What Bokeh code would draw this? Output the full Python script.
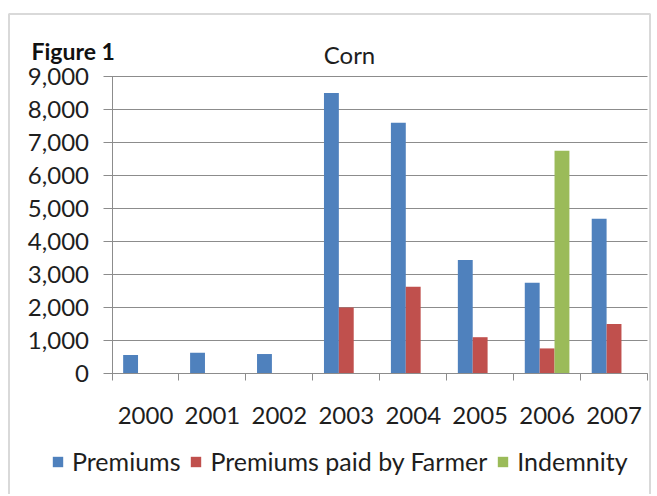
import numpy as np
from bokeh.plotting import figure
from bokeh.models import (ColumnDataSource, Range1d, FixedTicker, NumeralTickFormatter,
                          Legend, LegendItem, Label, BoxAnnotation)
from bokeh.transform import dodge
from bokeh.embed import file_html
from bokeh.resources import INLINE

years = ["2000", "2001", "2002", "2003", "2004", "2005", "2006", "2007"]
premiums = [560, 630, 590, 8500, 7600, 3440, 2750, 4690]
premiums_farmer = [0, 0, 0, 2000, 2630, 1100, 760, 1500]
indemnity = [0, 0, 0, 0, 0, 0, 6750, 0]
y_ticks = [0, 1000, 2000, 3000, 4000, 5000, 6000, 7000, 8000, 9000]
series_names = ["Premiums", "Premiums paid by Farmer", "Indemnity"]
title_text = "Corn"
figure_label = "Figure 1"

BLUE, RED, GREEN = "#4F81BD", "#C0504D", "#9BBB59"
FONT = "Lato"
TXT = "#1e1e1e"
GRID = "#8c8c8c"

# canvas layout (pixels)
W, H = 655, 494
L, R, T, B = 111.5, 647, 76, 373   # plot area: left, right, top(9000), bottom(0)
n = len(years)
ymax = y_ticks[-1]
ppx = (R - L) / n
ppy = (B - T) / ymax


def dx(px):
    return (px - L) / ppx


def dy(py):
    return (B - py) / ppy


centers = np.arange(n) + 0.5
src = ColumnDataSource(dict(x=centers, prem=premiums, farm=premiums_farmer, ind=indemnity))

p = figure(width=W, height=H, output_backend="svg", toolbar_location=None,
           x_range=Range1d(dx(0), dx(W)), y_range=Range1d(dy(H), dy(0)),
           min_border=0, min_border_left=0, min_border_right=0,
           min_border_top=0, min_border_bottom=0)
p.outline_line_color = None
p.background_fill_color = "white"
p.border_fill_color = "white"
p.xgrid.visible = False
p.ygrid.visible = False

# horizontal gridlines across the category span
p.segment(x0=0, x1=n, y0=y_ticks, y1=y_ticks, line_color=GRID, line_width=1)

bw = 1 / 4.5
r1 = p.vbar(x=dodge("x", -bw, range=p.x_range), top="prem", width=bw, source=src,
            fill_color=BLUE, line_color=None)
r2 = p.vbar(x=dodge("x", 0, range=p.x_range), top="farm", width=bw, source=src,
            fill_color=RED, line_color=None)
r3 = p.vbar(x=dodge("x", bw, range=p.x_range), top="ind", width=bw, source=src,
            fill_color=GREEN, line_color=None)

# x axis: labels at category centres, tick marks at boundaries
xa = p.xaxis[0]
xa.fixed_location = 0
xa.bounds = (0, n)
xa.ticker = FixedTicker(ticks=list(centers), minor_ticks=list(range(n + 1)))
xa.major_label_overrides = {float(c): y for c, y in zip(centers, years)}
xa.major_tick_out = 0
xa.major_tick_in = 0
xa.major_tick_line_color = None
xa.minor_tick_out = 7
xa.minor_tick_in = 0
xa.minor_tick_line_color = GRID
xa.axis_line_color = GRID
xa.major_label_standoff = 26
xa.major_label_text_font = FONT
xa.major_label_text_font_size = "24px"
xa.major_label_text_color = TXT

ya = p.yaxis[0]
ya.fixed_location = 0
ya.bounds = (0, ymax)
ya.ticker = FixedTicker(ticks=y_ticks, minor_ticks=[])
ya.formatter = NumeralTickFormatter(format="0,0")
ya.major_tick_out = 9
ya.major_tick_in = 0
ya.major_tick_line_color = GRID
ya.minor_tick_line_color = None
ya.axis_line_color = GRID
ya.major_label_standoff = 14
ya.major_label_text_font = FONT
ya.major_label_text_font_size = "24px"
ya.major_label_text_color = TXT

legend = Legend(items=[LegendItem(label=series_names[0], renderers=[r1]),
                       LegendItem(label=series_names[1], renderers=[r2]),
                       LegendItem(label=series_names[2], renderers=[r3])],
                orientation="horizontal", location=(51, 18),
                glyph_width=13, glyph_height=13, label_standoff=8, spacing=9,
                padding=0, margin=0, border_line_color=None, background_fill_alpha=0,
                label_text_font=FONT, label_text_font_size="25px", label_text_color=TXT)
p.add_layout(legend, "center")

p.add_layout(Label(x=dx(31), y=dy(50), text=figure_label, text_baseline="alphabetic",
                   text_font=FONT, text_font_style="bold", text_font_size="23px",
                   text_color="#111111"))
p.add_layout(Label(x=dx(349), y=dy(54), text=title_text, text_baseline="alphabetic",
                   text_align="center", text_font=FONT, text_font_size="24px",
                   text_color=TXT))

p.add_layout(BoxAnnotation(left=dx(8.5), right=dx(649.5), top=dy(13.5), bottom=dy(700),
                           fill_color=None, fill_alpha=0,
                           line_color="#808080", line_width=2))

open("out.html", "w").write(file_html(p, INLINE))
